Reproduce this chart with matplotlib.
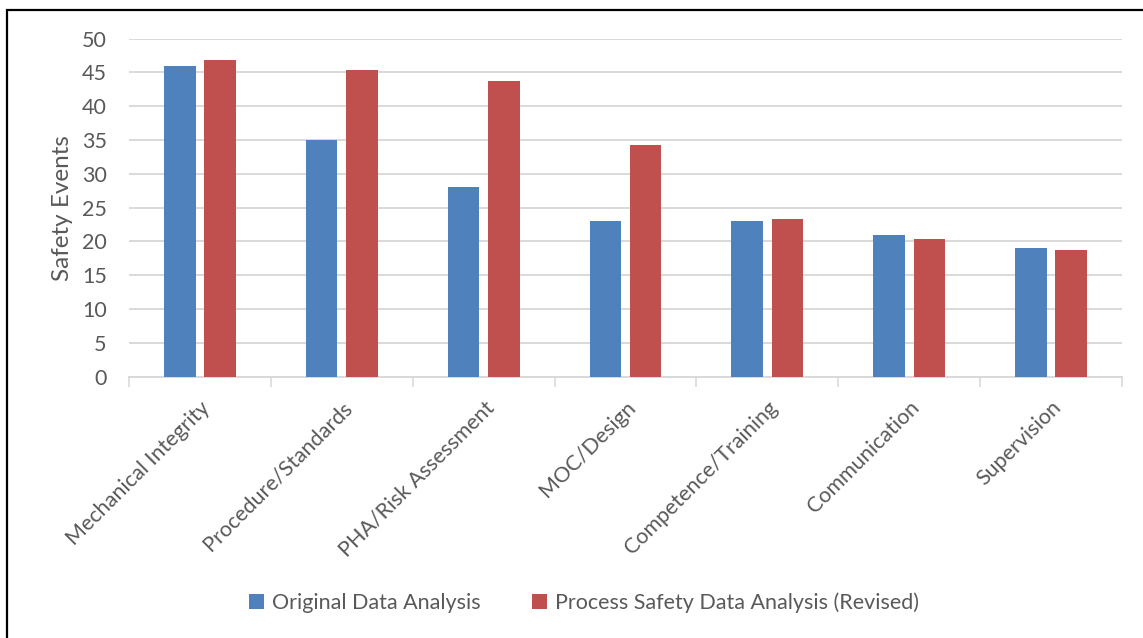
import matplotlib
matplotlib.use("Agg")
import matplotlib.pyplot as plt
import numpy as np
from matplotlib.patches import Rectangle

categories = ["Mechanical Integrity", "Procedure/Standards", "PHA/Risk Assessment",
              "MOC/Design", "Competence/Training", "Communication", "Supervision"]
original = [46, 35, 28, 23, 23, 21, 19]
revised = [46.9, 45.3, 43.8, 34.3, 23.3, 20.3, 18.8]
series_names = ["Original Data Analysis", "Process Safety Data Analysis (Revised)"]
yticks = [0, 5, 10, 15, 20, 25, 30, 35, 40, 45, 50]

plt.rcParams['font.family'] = ['Lato', 'DejaVu Sans']
W, H = 1143, 638
fig = plt.figure(figsize=(W / 100, H / 100), dpi=100)
ax = fig.add_axes([129 / W, 1 - 376.7 / H, (1122 - 129) / W, (376.7 - 38.7) / H])

x = np.arange(len(categories))
bw = 0.222
off = 0.142
c_blue = "#4F81BD"
c_red = "#C0504D"
ax.bar(x - off, original, bw, color=c_blue, label=series_names[0], zorder=3)
ax.bar(x + off, revised, bw, color=c_red, label=series_names[1], zorder=3)

fs = 15.5
ax.set_xlim(-0.5, len(categories) - 0.5)
ax.set_ylim(0, 50)
ax.set_yticks(yticks)
ax.set_yticklabels([str(v) for v in yticks], fontsize=fs, color="#595959")
ax.tick_params(axis='y', length=0, pad=16)
ax.yaxis.grid(True, color="#D9D9D9", linewidth=1.4, zorder=0)
ax.set_axisbelow(True)

ax.set_xticks(np.arange(len(categories) + 1) - 0.5, minor=True)
ax.set_xticks(x)
ax.set_xticklabels(categories, rotation=45, ha='right', rotation_mode='anchor',
                   fontsize=fs, color="#595959")
ax.tick_params(axis='x', which='major', length=0, pad=15)
ax.tick_params(axis='x', which='minor', length=7, color="#D9D9D9", width=1.2)

for s in ['top', 'right', 'left']:
    ax.spines[s].set_visible(False)
ax.spines['bottom'].set_color("#D9D9D9")
ax.spines['bottom'].set_linewidth(1.4)

ax.set_ylabel("Safety Events", fontsize=17.5, color="#595959", labelpad=6)

leg = fig.legend(loc='center', bbox_to_anchor=(584 / W, 1 - 603 / H), ncol=2, frameon=False,
                 fontsize=fs, handlelength=0.7, handleheight=0.7, columnspacing=2.35,
                 handletextpad=0.4)
for t in leg.get_texts():
    t.set_color("#595959")

fig.patches.append(Rectangle((7 / W, -0.05), 1.1, 1 - 9.5 / H + 0.05, transform=fig.transFigure,
                             fill=False, edgecolor="black", linewidth=1.6, zorder=10))

fig.savefig("out.png", dpi=100)
